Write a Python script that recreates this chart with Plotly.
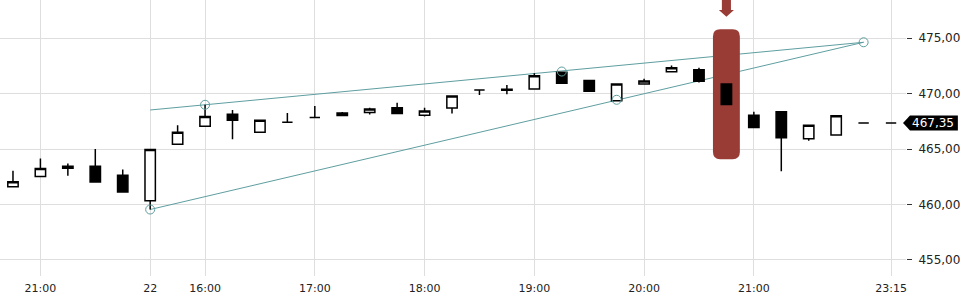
import plotly.graph_objects as go

# ---- data -------------------------------------------------------------
idx = list(range(33))
open_ = [461.60, 462.52, 463.27, 463.45, 462.64, 460.34, 465.43, 467.06, 468.15, 466.52, 467.43,
         467.85, 468.25, 468.30, 468.73, 468.06, 468.70, 470.34, 470.30, 470.43, 471.94, 471.18,
         469.36, 470.88, 471.97, 472.15, 470.88, 468.06, 468.36, 465.94, 466.27, 467.35, 467.35]
high = [463.05, 464.15, 463.70, 465.00, 463.15, 464.97, 467.15, 469.00, 468.52, 467.61, 468.25,
        468.90, 468.34, 468.73, 469.18, 468.73, 469.79, 470.34, 470.79, 471.85, 472.00, 471.18,
        470.88, 471.34, 472.55, 472.34, 470.88, 468.36, 468.36, 467.15, 468.00, 467.35, 467.35]
low = [461.60, 462.52, 462.60, 462.03, 461.12, 459.55, 465.43, 467.06, 465.88, 466.52, 467.43,
       467.85, 468.03, 468.12, 468.21, 467.94, 468.21, 469.88, 469.94, 470.43, 470.94, 470.21,
       469.36, 470.88, 471.97, 471.00, 469.03, 466.94, 463.00, 465.76, 466.27, 467.35, 467.35]
close = [462.05, 463.25, 463.45, 462.03, 461.12, 464.97, 466.52, 467.94, 467.61, 467.61, 467.43,
         467.85, 468.03, 468.61, 468.21, 468.43, 469.79, 470.34, 470.40, 471.61, 470.94, 470.21,
         470.88, 471.15, 472.34, 471.12, 469.03, 466.94, 466.03, 467.15, 468.00, 467.35, 467.35]

tick_pos = [1, 5, 7, 11, 15, 19, 23, 27, 32]
tick_text = ["21:00", "22", "16:00", "17:00", "18:00", "19:00", "20:00", "21:00", "23:15"]
y_ticks = [455, 460, 465, 470, 475]

# drawing-tool pivots (wedge)
pivot_x = [5, 7, 20, 22, 31]
pivot_y = [459.55, 469.00, 472.00, 469.45, 474.64]
upper_x = [5, 31]
upper_y = [468.53, 474.64]
lower_x = [5, 31]
lower_y = [459.55, 474.64]

highlight_idx = 26
highlight_lo, highlight_hi = 464.09, 475.82

# ---- styles -----------------------------------------------------------
TEAL = "#5F9EA0"
RED = "#9A3C36"
GRID = "#dedede"
FONT = "DejaVu Sans"

fig = go.Figure()

shapes = []
# trend lines (below traces, above grid)
for xs, ys in ((upper_x, upper_y), (lower_x, lower_y)):
    shapes.append(dict(type="line", xref="x", yref="y", x0=xs[0], y0=ys[0], x1=xs[1], y1=ys[1],
                       line=dict(color=TEAL, width=1), layer="between"))

# rounded highlight rectangle
hx0, hx1 = highlight_idx - 0.49, highlight_idx + 0.49
rx, ry = 0.26, 0.65
path = (f"M {hx0+rx},{highlight_hi} L {hx1-rx},{highlight_hi} Q {hx1},{highlight_hi} {hx1},{highlight_hi-ry} "
        f"L {hx1},{highlight_lo+ry} Q {hx1},{highlight_lo} {hx1-rx},{highlight_lo} "
        f"L {hx0+rx},{highlight_lo} Q {hx0},{highlight_lo} {hx0},{highlight_lo+ry} "
        f"L {hx0},{highlight_hi-ry} Q {hx0},{highlight_hi} {hx0+rx},{highlight_hi} Z")
shapes.append(dict(type="path", xref="x", yref="y", path=path, fillcolor=RED,
                   line=dict(width=0), layer="between"))

# arrow above highlight
ax = highlight_idx
arrow = (f"M {ax-0.165},478.6 L {ax+0.165},478.6 L {ax+0.165},477.55 L {ax+0.275},477.55 "
         f"L {ax},476.95 L {ax-0.275},477.55 L {ax-0.165},477.55 Z")
shapes.append(dict(type="path", xref="x", yref="y", path=arrow, fillcolor=RED,
                   line=dict(width=0), layer="above"))

fig.add_trace(go.Candlestick(
    x=idx, open=open_, high=high, low=low, close=close,
    increasing=dict(line=dict(color="black", width=1.5), fillcolor="white"),
    decreasing=dict(line=dict(color="black", width=1.5), fillcolor="black"),
    whiskerwidth=0, hoverinfo="skip", showlegend=False))

fig.add_trace(go.Scatter(
    x=pivot_x, y=pivot_y, mode="markers",
    marker=dict(symbol="circle-open", size=9, color=TEAL, line=dict(width=1, color=TEAL)),
    hoverinfo="skip", showlegend=False))

# last price tag
last = close[-1]
W = 908.0
px = lambda p: p / W
tag_h = 0.68
shapes.append(dict(type="path", xref="paper", yref="y",
                   path=(f"M {px(905)},{last} L {px(912)},{last+tag_h} L {px(960)},{last+tag_h} "
                         f"L {px(960)},{last-tag_h} L {px(912)},{last-tag_h} Z"),
                   fillcolor="black", line=dict(width=0), layer="above"))
label = f"{last:.2f}".replace(".", ",")

fig.update_layout(
    width=960, height=300,
    margin=dict(l=0, r=52, t=0, b=24),
    paper_bgcolor="white", plot_bgcolor="white",
    separators=",.",
    showlegend=False, hovermode=False,
    boxgap=0.46, boxgroupgap=0.3,
    font=dict(family=FONT, size=12, color="#222"),
    shapes=shapes,
    annotations=[dict(xref="paper", yref="y", x=px(958), y=last, xanchor="right", yanchor="middle",
                      text=label, showarrow=False, font=dict(family=FONT, size=12, color="white"))],
    xaxis=dict(range=[-0.473, 32.545], tickvals=tick_pos, ticktext=tick_text,
               showgrid=True, gridcolor=GRID, gridwidth=1, zeroline=False, showline=False,
               ticks="", ticklabelstandoff=4, tickfont=dict(family=FONT, size=11, color="#222"),
               rangeslider=dict(visible=False), fixedrange=True),
    yaxis=dict(side="right", range=[453.55, 478.4545], tickvals=y_ticks, tickformat=".2f",
               showgrid=True, gridcolor=GRID, gridwidth=1, zeroline=False, showline=False,
               ticks="outside", ticklen=5, tickcolor="#333", tickwidth=1, ticklabelstandoff=4,
               tickfont=dict(family=FONT, size=12, color="#222"), fixedrange=True),
)

fig.write_html("out.html")
